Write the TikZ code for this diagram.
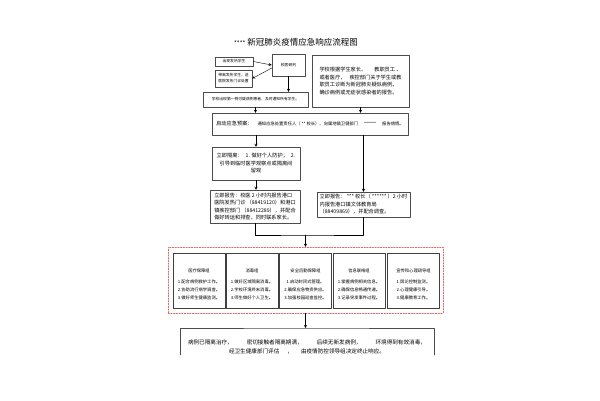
\documentclass[tikz,border=0pt]{standalone}
\usepackage{fontspec}
\newfontfamily\cjk{Noto Sans CJK SC}
\definecolor{grpred}{RGB}{224,102,102}
\begin{document}
\begin{tikzpicture}[x=1pt, y=-1pt, line cap=round, line join=round, >=stealth, font=\cjk\fontsize{5.2}{7.5}\selectfont]
	\tikzset{box/.style={draw=black!70, line width=0.45pt, inner sep=1pt},
		small/.style={font=\cjk\fontsize{3.8}{6}\selectfont},
		frame/.style={draw=black!70, line width=0.45pt},
		grp/.style={draw=black!75, line width=0.7pt, minimum width=52pt, minimum height=55pt}}
	\useasboundingbox (0,0) rectangle (600,400);
	\node[font=\cjk\fontsize{8.5}{9}\selectfont] (title) at (296,42) {{\fontsize{6}{7}\selectfont ****} 新冠肺炎疫情应急响应流程图};
	\node[box, small, minimum width=38pt, minimum height=9pt] (fever) at (234,61.5) {出现发热学生};
	\node[box, small, minimum width=33pt, minimum height=22pt] (check) at (288.5,65) {校医研判};
	\node[box, small, align=left, minimum width=37pt, minimum height=17pt] (send) at (233.5,78.5) {带离发热学生，送\\医院发热门诊处置};
	\node[box, small, align=left, minimum width=105pt, minimum height=15pt] (notice) at (255.5,99.5) {学校出现第一例可疑病例患者，及时通知所有学生。};
	\node[box, align=left, minimum width=97pt, minimum height=52pt] (report) at (360.5,81) {学校根据学生家长、\hspace{8pt}教职员工 、\\或者医疗，\hspace{4pt}疾控部门关于学生或教\\职员工诊断为新冠肺炎疑似病例、\\确诊病例或无症状感染者的报告。};
	\node[box, align=left, minimum width=196pt, minimum height=22pt] (plan) at (310,124) {启动应急预案：\hspace{5pt}{\fontsize{4.3}{6}\selectfont 通知应急处置责任人（ ** 校长）、向属地镇卫健部门\hspace{6pt}******\hspace{6pt}报告病情。}};
	\node[box, align=center, minimum width=88pt, minimum height=33pt] (isolate) at (256,163.5) {立即隔离：\hspace{3pt}1. 做好个人防护；\hspace{3pt}2.\\引导到临时医学观察点或隔离间\\留观};
	\node[box, align=left, minimum width=90pt, minimum height=33pt] (doctor) at (255,206.5) {立即报告：校医 2 小时内报告港口\\医院发热门诊 （88419120）和港口\\镇疾控部门 （88412289），并配合\\做好转运和排查，同时联系家长。};
	\node[box, align=left, minimum width=93pt, minimum height=25pt] (head) at (363.5,204.5) {立即报告： *** 校长（ ****** ）2 小时\\内报告港口镇文体教育局\\（88409869），并配合调查。};
	\node[draw=grpred, dash pattern=on 1.5pt off 1.2pt, line width=0.5pt, minimum width=275pt, minimum height=66pt] (team) at (305.5,280) {};
	\foreach \n/\x/\t/\a/\b/\c in {g1/199/医疗保障组/1.配合病例救护工作。/2.协助流行病学调查。/3.做好师生健康监测。,
		g2/252/消毒组/1.做好区域隔离消毒。/2.学校环境终末消毒。/3.师生做好个人卫生。,
		g3/305.5/安全后勤保障组/1.启动封闭式管理。/2.确保应急物资供应。/3.加强校园巡查监控。,
		g4/359/信息联络组/1.掌握病例相关信息。/2.确保信息畅通传递。/3.记录突发事件过程。,
		g5/413.5/宣传和心理疏导组/1.舆论控制监测。/2.心理健康引导。/3.健康教育工作。}{
		\node[grp] (\n) at (\x,280.5) {};
		\node[font=\cjk\fontsize{4.3}{8}\selectfont, align=center] (\n t) at ([yshift=-4pt]\n.center) {\t\\[3pt]\a\\\b\\\c};
	}
	\coordinate (fintop) at (team.south |- 0,328);
	\draw[frame] (180,355) |- (fintop) -| (434,355);
	\node[align=center, font=\cjk\fontsize{5.6}{9}\selectfont] (final) at (307,346.5) {病例已隔离治疗，\hspace{14pt}密切接触者隔离期满，\hspace{14pt}后续无新发病例，\hspace{14pt}环境得到有效消毒，\\经卫生健康部门评估\hspace{8pt}，\hspace{8pt}由疫情防控领导组决定终止响应。};
	% connectors
	\draw[->] (fever.east) -- (check.west);
	\draw[->] ([yshift=-3pt]check.west) -- (send.east);
	\draw[->] (check.south) -- (check.south |- notice.north);
	\draw[->] (notice.south) -- (notice.south |- plan.north);
	\draw[->] (report.south) -- (report.south |- plan.north);
	\draw[->] (isolate.north |- plan.south) -- (isolate.north);
	\draw[->] (head.north |- plan.south) -- (head.north);
	\draw[->] (isolate.south) -- (isolate.south |- doctor.north);
	\coordinate (join) at (team.north |- 0,235);
	\draw (doctor.south) |- (join) -| (head.south);
	\draw[->] (join) -- (team.north);
	\draw[->] (team.south) -- (fintop);
\end{tikzpicture}
\end{document}
